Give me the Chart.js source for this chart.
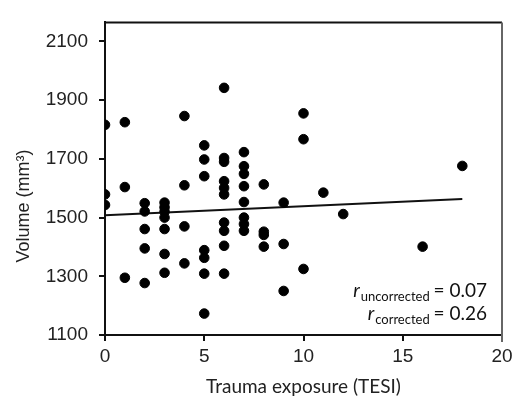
<!DOCTYPE html>
<html>
<head>
<meta charset="utf-8">
<script src="https://cdn.jsdelivr.net/npm/chart.js@4/dist/chart.umd.min.js"></script>
<style>
  html, body { margin: 0; padding: 0; background: #fff; }
  #wrap { width: 514px; height: 402px; }
</style>
</head>
<body>
<div id="wrap"><canvas id="scatterChart" width="514" height="402"></canvas></div>
<script>
// Trauma exposure (TESI score) and volume (mm3), one entry per subject
const tesi = [
  0, 0, 0,
  1, 1, 1,
  2, 2, 2, 2, 2,
  3, 3, 3, 3, 3, 3, 3,
  4, 4, 4, 4,
  5, 5, 5, 5, 5, 5, 5,
  6, 6, 6, 6, 6, 6, 6, 6, 6, 6,
  7, 7, 7, 7, 7, 7, 7, 7,
  8, 8, 8, 8,
  9, 9, 9,
  10, 10, 10,
  11, 12, 16, 18
];
const volume = [
  1816, 1579, 1543,
  1825, 1604, 1295,
  1549, 1521, 1461, 1395, 1277,
  1551, 1535, 1520, 1500, 1461, 1376, 1312,
  1846, 1610, 1470, 1344,
  1746, 1698, 1641, 1389, 1363, 1309, 1173,
  1942, 1703, 1690, 1624, 1601, 1579, 1483, 1455, 1404, 1309,
  1723, 1675, 1649, 1607, 1553, 1500, 1478, 1455,
  1613, 1452, 1441, 1401,
  1551, 1410, 1250,
  1855, 1767, 1325,
  1585, 1512, 1401, 1676
];

// fitted line end points
const fitX = [0, 18];
const fitY = [1508, 1563];

const xTicks = [0, 5, 10, 15, 20];
const yTicks = [1100, 1300, 1500, 1700, 1900, 2100];

const yTitle = 'Volume (mm³)';
const statLabels = ['uncorrected', 'corrected'];
const statValues = ['0.07', '0.26'];

// box frame, y title (sits a bit below the middle) and r values
const framePlugin = {
    id: 'frame',
    afterDraw(chart) {
        const ctx = chart.ctx;
        const a = chart.chartArea;
        ctx.save();
        ctx.lineWidth = 2;
        ctx.strokeStyle = '#111';
        ctx.beginPath();
        ctx.moveTo(a.left, a.top);
        ctx.lineTo(a.right, a.top);
        ctx.stroke();
        ctx.strokeStyle = '#666';
        ctx.beginPath();
        ctx.moveTo(a.right, a.top);
        ctx.lineTo(a.right, a.bottom + 7);
        ctx.stroke();

        ctx.fillStyle = '#222';
        ctx.save();
        ctx.translate(24, 206);
        ctx.rotate(-Math.PI / 2);
        ctx.font = '18px "Liberation Sans"';
        ctx.textAlign = 'center';
        ctx.textBaseline = 'middle';
        ctx.fillText(yTitle, 0, 0);
        ctx.restore();

        ctx.fillStyle = '#111';
        ctx.textBaseline = 'alphabetic';
        const rightX = a.right - 15;
        const baselines = [a.bottom - 38, a.bottom - 15];
        for (let i = 0; i < statLabels.length; i++) {
            const big = '19px Lato';
            const small = '13px Lato';
            const tail = ' = ' + statValues[i];
            ctx.font = big;
            const wTail = ctx.measureText(tail).width;
            ctx.font = small;
            const wSub = ctx.measureText(statLabels[i]).width;
            ctx.font = 'italic 19px Lato';
            const wR = ctx.measureText('r').width;
            let x = rightX - wTail - wSub - wR;
            const y = baselines[i];
            ctx.fillText('r', x, y);
            x += wR + 1;
            ctx.font = small;
            ctx.fillText(statLabels[i], x, y + 4);
            x += wSub;
            ctx.font = big;
            ctx.fillText(tail, x - 1, y);
        }
        ctx.restore();
    }
};

const tickFont = { family: 'Liberation Sans', size: 19 };

new Chart(document.getElementById('scatterChart'), {
    type: 'scatter',
    data: {
        datasets: [
            {
                label: 'Subjects',
                data: tesi.map((t, i) => ({ x: t, y: volume[i] })),
                backgroundColor: '#000',
                borderColor: '#000',
                pointRadius: 4.8,
                pointHoverRadius: 4.8
            },
            {
                type: 'line',
                label: 'Fit',
                data: fitX.map((t, i) => ({ x: t, y: fitY[i] })),
                borderColor: '#111',
                borderWidth: 2,
                pointRadius: 0,
                fill: false
            }
        ]
    },
    options: {
        responsive: false,
        animation: false,
        layout: { padding: { top: 20, right: 12, left: 0, bottom: 0 } },
        plugins: {
            legend: { display: false },
            tooltip: { enabled: false }
        },
        scales: {
            x: {
                type: 'linear',
                min: 0,
                max: 20,
                afterBuildTicks: axis => { axis.ticks = xTicks.map(v => ({ value: v })); },
                afterFit: axis => { axis.height = 67; axis.paddingRight = 0; axis.paddingLeft = 0; },
                border: { color: '#111', width: 2 },
                grid: { drawOnChartArea: false, drawTicks: true, tickLength: 6, color: '#111', lineWidth: 2 },
                ticks: { color: '#222', font: tickFont, padding: 4, maxRotation: 0 },
                title: {
                    display: true,
                    text: 'Trauma exposure (TESI)',
                    color: '#222',
                    font: { family: 'Lato', size: 19 },
                    padding: { top: 7 }
                }
            },
            y: {
                min: 1100,
                max: 2165,
                afterBuildTicks: axis => { axis.ticks = yTicks.map(v => ({ value: v })); },
                afterFit: axis => { axis.width = 105; },
                border: { color: '#111', width: 2 },
                grid: { drawOnChartArea: false, drawTicks: true, tickLength: 6, color: '#111', lineWidth: 2 },
                ticks: { color: '#222', font: tickFont, padding: 11, callback: v => String(v) }
            }
        }
    },
    plugins: [framePlugin]
});
</script>
</body>
</html>
